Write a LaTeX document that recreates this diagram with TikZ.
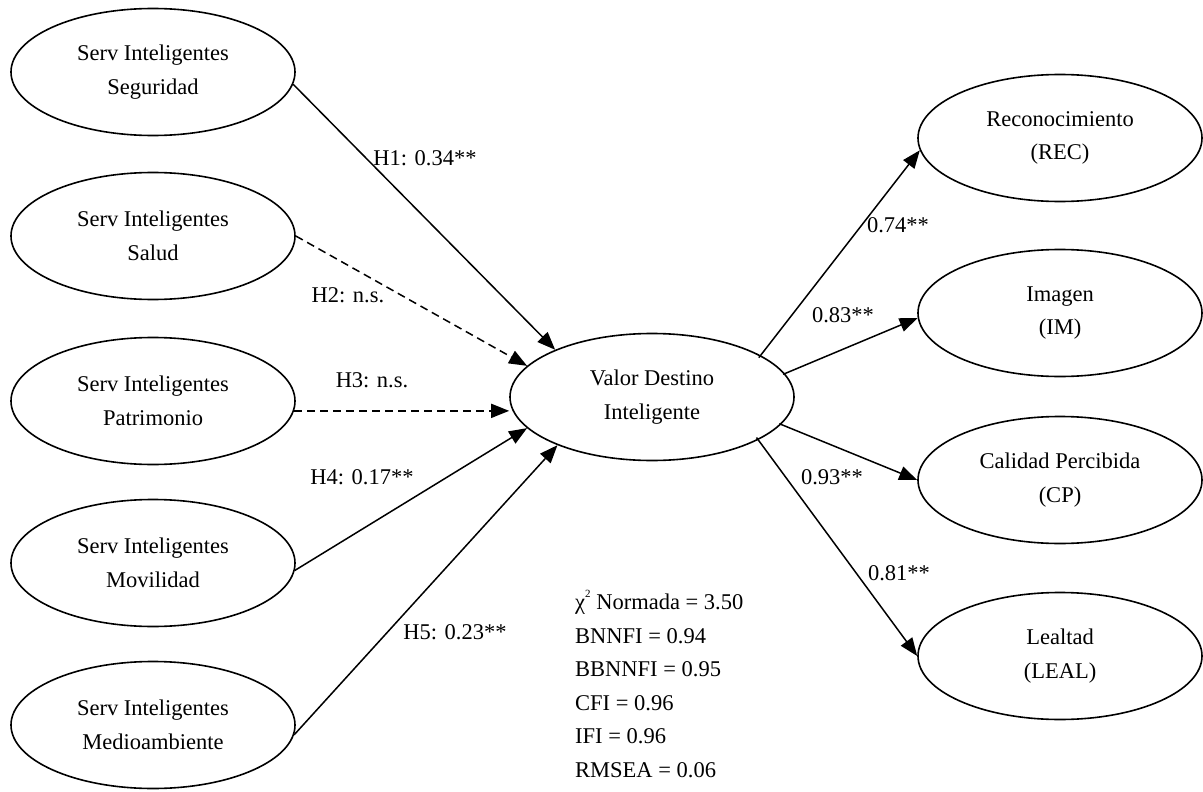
\documentclass[tikz,border=0pt]{standalone}
\usepackage{fontspec}
\setmainfont{Liberation Serif}
\usetikzlibrary{shapes.geometric,arrows.meta}
\begin{document}
\begin{tikzpicture}[x=1pt,y=-1pt,
  latent/.style={draw,ellipse,line width=1.6pt,minimum width=284pt,minimum height=127pt,inner sep=0pt,align=center,font=\fontsize{22.5}{33.5}\selectfont},
  lbl/.style={font=\fontsize{22.5}{33.5}\selectfont,inner sep=0pt},
  arr/.style={line width=1.5pt,-{Triangle[length=18pt,width=14pt]}},
  nsarr/.style={arr,dash pattern=on 8pt off 5pt}]
\useasboundingbox (0,0) rectangle (1203,792);

% left constructs
\node[latent] (seg) at (153,72)  {Serv Inteligentes\\Seguridad};
\node[latent] (sal) at (153,236) {Serv Inteligentes\\Salud};
\node[latent] (pat) at (153,401) {Serv Inteligentes\\Patrimonio};
\node[latent] (mov) at (153,563) {Serv Inteligentes\\Movilidad};
\node[latent] (med) at (153,725) {Serv Inteligentes\\Medioambiente};

% central
\node[latent] (vdi) at (652,397) {Valor Destino\\Inteligente};

% right constructs
\node[latent] (rec) at (1060,138) {Reconocimiento\\(REC)};
\node[latent] (im)  at (1060,313) {Imagen\\(IM)};
\node[latent] (cp)  at (1060,480) {Calidad Percibida\\(CP)};
\node[latent] (leal) at (1060,656) {Lealtad\\(LEAL)};

% hypotheses
\draw[arr]   (seg.-5.2) -- (vdi.154.6);
\draw[nsarr] (sal.0)    -- (vdi.166.4);
\draw[nsarr] (pat.-4)   -- (pat.-4 -| vdi.west);
\draw[arr]   (mov.-3.2) -- (vdi.194.6);
\draw[arr]   (med.-4)   -- (vdi.207.3);

% outcomes
\draw[arr,shorten <=-3pt] (vdi.21.7)  -- (rec.185);
\draw[arr,shorten <=-2pt] (vdi.10.5)  -- (im.182);
\draw[arr,shorten <=-2pt] (vdi.-12.3) -- (cp.west);
\draw[arr,shorten <=-3pt] (vdi.-22.7) -- (leal.west);

% labels
\node[lbl] (l1) at (425,158) {H1: 0.34**};
\node[lbl] (l2) at (348,295) {H2: n.s.};
\node[lbl] (l3) at (372,380) {H3: n.s.};
\node[lbl] (l4) at (362,477) {H4: 0.17**};
\node[lbl] (l5) at (455,632) {H5: 0.23**};
\node[lbl] (r1) at (898,225) {0.74**};
\node[lbl] (r2) at (843,315) {0.83**};
\node[lbl] (r3) at (832,477) {0.93**};
\node[lbl] (r4) at (899,573) {0.81**};

% fit statistics
\node[lbl,anchor=north west,align=left] (fit) at (575,590)
  {χ\raisebox{0.55em}{\fontsize{11}{11}\selectfont 2} Normada = 3.50\\
   BNNFI = 0.94\\
   BBNNFI = 0.95\\
   CFI = 0.96\\
   IFI = 0.96\\
   RMSEA = 0.06};
\end{tikzpicture}
\end{document}
